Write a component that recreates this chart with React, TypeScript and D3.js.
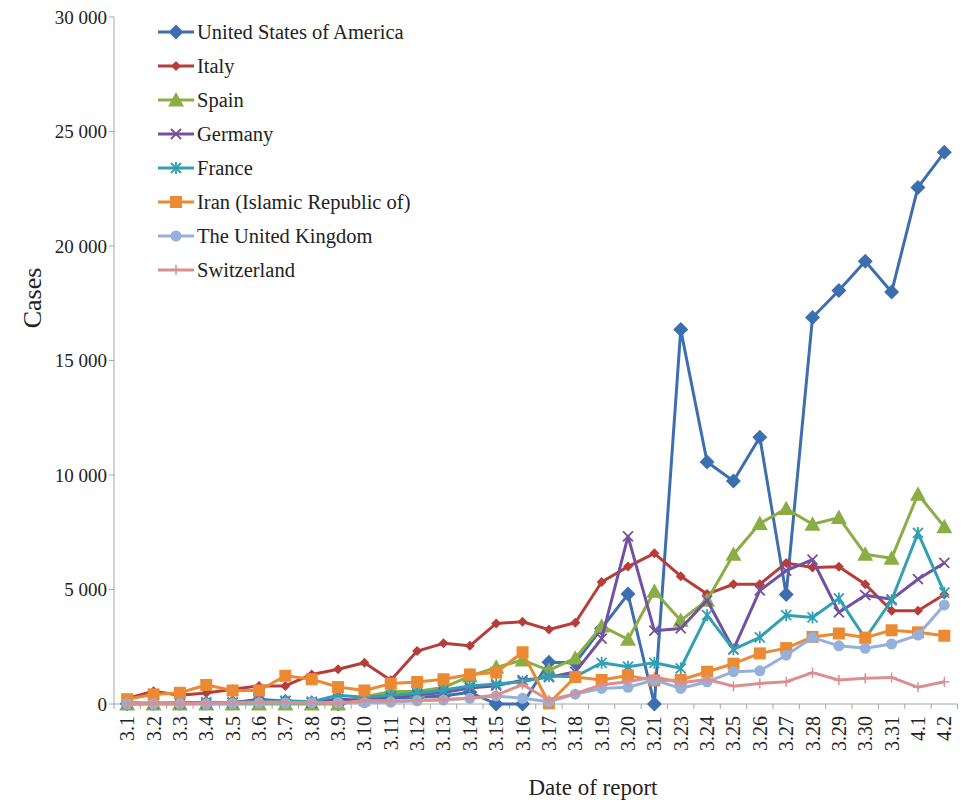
import React from "react";
import * as d3 from "d3";

const dates = ["3.1","3.2","3.3","3.4","3.5","3.6","3.7","3.8","3.9","3.10","3.11","3.12","3.13","3.14","3.15","3.16","3.17","3.18","3.19","3.20","3.21","3.23","3.24","3.25","3.26","3.27","3.28","3.29","3.30","3.31","4.1","4.2"];

const usa = [10,20,30,40,60,170,110,60,0,200,270,290,350,510,0,0,1820,1800,3300,4800,0,16350,10570,9740,11650,4780,16880,18060,19330,17990,22560,24090];
const italy = [240,560,380,480,640,790,790,1290,1520,1800,1040,2310,2650,2540,3520,3590,3250,3550,5330,6000,6580,5580,4800,5230,5230,6160,5960,5990,5230,4070,4070,4780];
const spain = [0,0,0,0,0,0,0,0,0,320,540,560,720,1220,1600,1920,1470,2000,3400,2820,4920,3650,4530,6530,7880,8530,7850,8140,6540,6360,9160,7740];
const germany = [50,20,30,30,50,200,130,50,230,140,300,400,500,700,800,1040,1170,1400,2850,7320,3200,3300,4530,2390,4960,5820,6300,4000,4750,4570,5450,6160];
const france = [30,40,60,80,70,100,140,100,380,300,380,470,610,790,870,970,1220,1190,1800,1630,1800,1560,3880,2390,2910,3880,3780,4610,2860,4530,7470,4860];
const iran = [210,420,490,830,590,590,1230,1080,740,590,890,960,1080,1290,1370,2260,30,1180,1050,1240,1030,1050,1410,1760,2210,2440,2930,3080,2900,3220,3130,2980];
const uk = [10,10,20,10,30,50,40,60,50,50,80,140,170,250,350,250,100,430,680,730,1050,680,970,1410,1450,2130,2900,2540,2430,2620,3010,4320];
const switzerland = [10,20,10,40,50,80,80,60,30,150,140,150,200,250,390,850,170,450,840,970,1190,930,1070,780,900,970,1370,1050,1120,1160,730,970];

const seriesNames = ["United States of America","Italy","Spain","Germany","France","Iran (Islamic Republic of)","The United Kingdom","Switzerland"];
const yTicks = [0,5000,10000,15000,20000,25000,30000];

const seriesValues = [usa, italy, spain, germany, france, iran, uk, switzerland];
const colors = ["#3d6fb0","#b73d3a","#8aae45","#7451a0","#31a0b5","#ec8a33","#96b0dc","#d9908e"];
const markers = ["diamond","smallDiamond","triangle","x","star","square","circle","plus"];

const W = 962, H = 802;
const left = 114, right = 957.5, top = 17, bottom = 704;
const font = "Liberation Serif, Times New Roman, Times, DejaVu Serif, serif";

function Marker({ type, x, y, color }: { type: string; x: number; y: number; color: string }) {
  switch (type) {
    case "diamond": {
      const s = 7.5;
      return <path d={`M${x},${y - s}L${x + s},${y}L${x},${y + s}L${x - s},${y}Z`} fill={color} />;
    }
    case "smallDiamond": {
      const s = 5;
      return <path d={`M${x},${y - s}L${x + s},${y}L${x},${y + s}L${x - s},${y}Z`} fill={color} />;
    }
    case "triangle": {
      const s = 8;
      return <path d={`M${x},${y - s}L${x + s},${y + s * 0.8}L${x - s},${y + s * 0.8}Z`} fill={color} />;
    }
    case "x": {
      const s = 5;
      return <path d={`M${x - s},${y - s}L${x + s},${y + s}M${x - s},${y + s}L${x + s},${y - s}`} stroke={color} strokeWidth={1.8} fill="none" />;
    }
    case "star": {
      const s = 5;
      return <path d={`M${x - s},${y - s}L${x + s},${y + s}M${x - s},${y + s}L${x + s},${y - s}M${x},${y - s - 1}L${x},${y + s + 1}`} stroke={color} strokeWidth={1.8} fill="none" />;
    }
    case "square": {
      const s = 6;
      return <rect x={x - s} y={y - s} width={2 * s} height={2 * s} fill={color} />;
    }
    case "circle":
      return <circle cx={x} cy={y} r={5.5} fill={color} />;
    case "plus": {
      const s = 5;
      return <path d={`M${x - s},${y}L${x + s},${y}M${x},${y - s}L${x},${y + s}`} stroke={color} strokeWidth={1.5} fill="none" />;
    }
  }
  return null;
}

export default function App() {
  const x = d3.scalePoint<string>().domain(dates).range([left, right]).padding(0.5);
  const y = d3.scaleLinear().domain([0, 30000]).range([bottom, top]);
  const step = x.step();
  const fmt = (v: number) => d3.format(",")(v).replace(/,/g, " ");
  const line = d3.line<number>().x((_, i) => x(dates[i]) as number).y((d) => y(d));
  const ts = { fontFamily: font, fill: "#222" };

  return (
    <svg width={W} height={H} style={{ position: "absolute", left: 0, top: 0, background: "#fff", fontFamily: font }}>
      <rect width={W} height={H} fill="#fff" />
      <line x1={left} x2={left} y1={top} y2={bottom} stroke="#a6a6a6" strokeWidth={1} />
      <line x1={left} x2={right} y1={bottom} y2={bottom} stroke="#a6a6a6" strokeWidth={1} />
      {yTicks.map((t) => (
        <g key={t}>
          <line x1={left - 5} x2={left} y1={y(t)} y2={y(t)} stroke="#a6a6a6" />
          <text x={left - 7} y={y(t)} dy="0.35em" textAnchor="end" fontSize={19} style={ts}>{fmt(t)}</text>
        </g>
      ))}
      {d3.range(dates.length + 1).map((k) => (
        <line key={k} x1={left + k * step} x2={left + k * step} y1={bottom} y2={bottom + 5} stroke="#a6a6a6" />
      ))}
      {dates.map((d) => (
        <text key={d} transform={`translate(${(x(d) as number) + 7},${bottom + 12}) rotate(-90)`} textAnchor="end" fontSize={20} style={ts}>{d}</text>
      ))}
      <text transform={`translate(41,298) rotate(-90)`} textAnchor="middle" fontSize={26} style={ts}>Cases</text>
      <text x={593} y={795} textAnchor="middle" fontSize={23} style={ts}>Date of report</text>

      {seriesValues.map((vals, si) => (
        <g key={si}>
          <path d={line(vals) || ""} fill="none" stroke={colors[si]} strokeWidth={3} strokeLinejoin="round" />
          {vals.map((v, i) => (
            <Marker key={i} type={markers[si]} x={x(dates[i]) as number} y={y(v)} color={colors[si]} />
          ))}
        </g>
      ))}

      {seriesNames.map((n, i) => {
        const ly = 32 + i * 34;
        return (
          <g key={n}>
            <line x1={158} x2={194} y1={ly} y2={ly} stroke={colors[i]} strokeWidth={3} />
            <Marker type={markers[i]} x={176} y={ly} color={colors[i]} />
            <text x={197} y={ly} dy="0.35em" fontSize={20.5} style={ts}>{n}</text>
          </g>
        );
      })}
    </svg>
  );
}
